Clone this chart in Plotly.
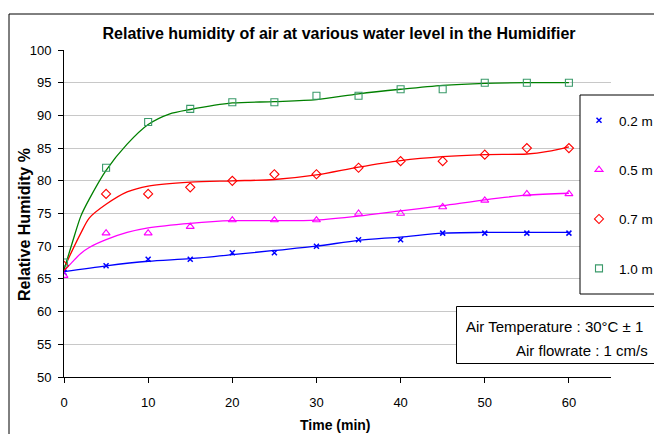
import plotly.graph_objects as go

# Measured relative humidity (%) against time (min) for four water levels
time_min = [0, 5, 10, 15, 20, 25, 30, 35, 40, 45, 50, 55, 60]
rh_02 = [66, 67, 68, 68, 69, 69, 70, 71, 71, 72, 72, 72, 72]
rh_05 = [65.5, 72, 72, 73, 74, 74, 74, 75, 75, 76, 77, 78, 78]
rh_07 = [67, 78, 78, 79, 80, 81, 81, 82, 83, 83, 84, 85, 85]
rh_10 = [67.5, 82, 89, 91, 92, 92, 93, 93, 94, 94, 95, 95, 95]

# Smoothed trend curves
trend_t_02 = [0, 5, 10, 15, 20, 25, 30, 35, 40, 45, 50, 55, 60]
trend_02 = [66.1, 67.0, 67.7, 68.1, 68.7, 69.35, 70.0, 70.9, 71.4, 72.0, 72.1, 72.1, 72.1]

trend_t_05 = [0, 1, 2, 3, 5, 7.5, 10, 15, 20, 25, 30, 35, 40, 45, 50, 55, 60]
trend_05 = [66.2, 67.6, 68.9, 69.8, 71.0, 72.1, 72.8, 73.5, 73.9, 73.9, 74.0, 74.6, 75.4, 76.2, 77.1, 77.8, 78.1]

trend_t_07 = [0, 1, 2, 3, 5, 7.5, 10, 15, 20, 25, 30, 35, 40, 45, 50, 55, 57.5, 60]
trend_07 = [66.6, 69.4, 72.0, 74.3, 76.4, 78.3, 79.2, 79.8, 80.0, 80.2, 80.9, 82.1, 83.1, 83.7, 84.0, 84.1, 84.5, 85.2]

trend_t_10 = [0, 1, 2, 3, 5, 7.5, 10, 12.5, 15, 20, 25, 30, 35, 40, 45, 50, 55, 60]
trend_10 = [66.4, 70.6, 74.6, 77.2, 81.6, 85.6, 88.6, 90.2, 90.9, 91.9, 92.1, 92.4, 93.3, 94.0, 94.6, 94.9, 95.0, 95.0]

level_names = ["0.2 m", "0.5 m", "0.7 m", "1.0 m"]
x_ticks = [0, 10, 20, 30, 40, 50, 60]
y_ticks = [50, 55, 60, 65, 70, 75, 80, 85, 90, 95, 100]

series = [
    (level_names[0], rh_02, trend_t_02, trend_02, "#0000FF", "#0000FF", "x-thin", 5),
    (level_names[1], rh_05, trend_t_05, trend_05, "#FF00FF", "#FF00FF", "triangle-up-open", 7),
    (level_names[2], rh_07, trend_t_07, trend_07, "#FF0000", "#FF0000", "diamond-open", 7),
    (level_names[3], rh_10, trend_t_10, trend_10, "#008000", "#3A9A6A", "square-open", 7),
]

W, H = 654, 434
L, R, T, B = 64, 43, 50, 57
PW, PH = W - L - R, H - T - B


def xp(px):
    return (px - L) / PW


def yp(py):
    return (H - B - py) / PH


fig = go.Figure()

for name, vals, tt, tv, lcol, mcol, sym, size in series:
    fig.add_trace(go.Scatter(
        x=tt, y=tv, mode="lines",
        line=dict(color=lcol, width=1.3, shape="spline", smoothing=0.8),
        showlegend=False, hoverinfo="skip",
    ))
for name, vals, tt, tv, lcol, mcol, sym, size in series:
    fig.add_trace(go.Scatter(
        x=time_min, y=vals, mode="markers", name=name,
        legendgroup=name,
        marker=dict(symbol=sym, size=size, color=mcol,
                    line=dict(color=mcol, width=1.5 if sym == "x-thin" else 1.1)),
    ))

font_main = "Arial, Liberation Sans, sans-serif"

fig.update_layout(
    width=W, height=H,
    margin=dict(l=L, r=R, t=T, b=B, autoexpand=False),
    paper_bgcolor="white", plot_bgcolor="white",
    font=dict(family=font_main, color="black", size=13),
    title=dict(
        text="<b>Relative humidity of air at various water level in the Humidifier</b>",
        x=xp(339), xref="paper", xanchor="center",
        y=1 - 33.5 / H, yref="container", yanchor="middle",
        font=dict(family=font_main, size=16, color="black"),
    ),
    xaxis=dict(
        range=[0, 65], tickvals=x_ticks, ticks="outside", ticklen=5,
        tickcolor="black", showline=True, linecolor="black", linewidth=1,
        showgrid=False, zeroline=False, ticklabelstandoff=8,
        tickfont=dict(size=13),
    ),
    yaxis=dict(
        range=[50, 100], tickvals=y_ticks, ticks="outside", ticklen=5,
        tickcolor="black", showline=True, linecolor="black", linewidth=1,
        showgrid=True, gridcolor="#C8C8C8", gridwidth=1, zeroline=False,
        ticklabelstandoff=4, tickfont=dict(size=13),
    ),
    legend=dict(
        x=xp(579), xanchor="left", xref="paper",
        y=yp(105), yanchor="top", yref="paper",
        bgcolor="rgba(0,0,0,0)", borderwidth=0,
        tracegroupgap=28.8, traceorder="grouped",
        font=dict(family=font_main, size=13.5, color="black"),
    ),
)

# Outer chart frame, legend frame and condition box
fig.add_shape(type="rect", xref="paper", yref="paper",
              x0=xp(9), x1=xp(670), y0=yp(450), y1=yp(14),
              line=dict(color="black", width=1), fillcolor="rgba(0,0,0,0)", layer="above")
fig.add_shape(type="rect", xref="paper", yref="paper",
              x0=xp(580), x1=xp(670), y0=yp(294), y1=yp(95),
              line=dict(color="black", width=1), fillcolor="white", layer="above")
fig.add_shape(type="rect", xref="paper", yref="paper",
              x0=xp(456.5), x1=xp(670), y0=yp(363.5), y1=yp(306.5),
              line=dict(color="black", width=1), fillcolor="white", layer="above")

fig.add_annotation(text="Air Temperature : 30°C ± 1", xref="paper", yref="paper",
                   x=xp(645), y=yp(326), xanchor="right", yanchor="middle",
                   showarrow=False, font=dict(family=font_main, size=15, color="black"))
fig.add_annotation(text="Air flowrate : 1 cm/s", xref="paper", yref="paper",
                   x=xp(650), y=yp(350.5), xanchor="right", yanchor="middle",
                   showarrow=False, font=dict(family=font_main, size=15, color="black"))

# Axis titles
fig.add_annotation(text="<b>Time (min)</b>", xref="paper", yref="paper",
                   x=xp(335), y=yp(425), xanchor="center", yanchor="middle",
                   showarrow=False, font=dict(family=font_main, size=14, color="black"))
fig.add_annotation(text="<b>Relative Humidity %</b>", xref="paper", yref="paper",
                   x=xp(24), y=yp(225), xanchor="center", yanchor="middle",
                   textangle=-90, showarrow=False,
                   font=dict(family=font_main, size=16, color="black"))

fig.write_html("out.html")
